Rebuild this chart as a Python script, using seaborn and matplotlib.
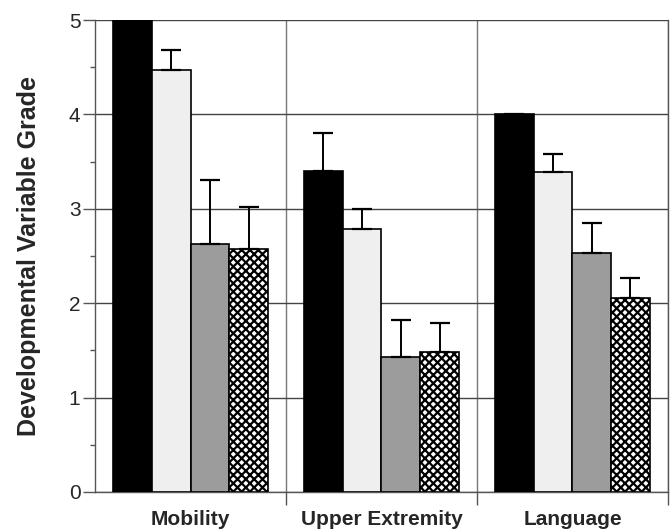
import numpy as np
import pandas as pd
import matplotlib
matplotlib.use("Agg")
import matplotlib.pyplot as plt
import seaborn as sns
from matplotlib.ticker import MultipleLocator

categories = ["Mobility", "Upper Extremity", "Language"]
groups = ["Group A", "Group B", "Group C", "Group D"]
values_a = [5.0, 3.40, 4.0]
values_b = [4.47, 2.79, 3.39]
values_c = [2.63, 1.43, 2.53]
values_d = [2.57, 1.48, 2.05]
err_a = [np.nan, 0.40, np.nan]
err_b = [0.21, 0.21, 0.19]
err_c = [0.68, 0.39, 0.32]
err_d = [0.45, 0.31, 0.22]

all_vals = [values_a, values_b, values_c, values_d]
all_errs = [err_a, err_b, err_c, err_d]
df = pd.DataFrame({
    "category": [c for _ in groups for c in categories],
    "group": [g for g in groups for _ in categories],
    "value": [v for vals in all_vals for v in vals],
})

sns.set_theme(style="white")
plt.rcParams["font.family"] = ["Liberation Sans", "DejaVu Sans"]
plt.rcParams["hatch.linewidth"] = 1.6

fig = plt.figure(figsize=(6.71, 5.32), dpi=100)
ax = fig.add_axes([0.1416, 0.0752, 0.8539, 0.8872])

face = ["#000000", "#efefef", "#9c9c9c", "#ffffff"]
hatches = [None, None, None, "xxxx"]
sns.barplot(data=df, x="category", y="value", hue="group", order=categories,
            hue_order=groups, palette=face, width=0.81, gap=0, saturation=1,
            edgecolor="black", linewidth=1.2, legend=False, ax=ax, zorder=3)

for cont, h, errs, vals in zip(ax.containers, hatches, all_errs, all_vals):
    xs = []
    for bar in cont:
        if h:
            bar.set_hatch(h)
        xs.append(bar.get_x() + bar.get_width() / 2)
    e = np.array(errs, dtype=float)
    ax.errorbar(xs, vals, yerr=[np.zeros_like(e), e], fmt="none",
                ecolor="black", elinewidth=1.4, capsize=7, capthick=1.6, zorder=4)

ax.set_xlim(-0.5, 2.5)
ax.set_ylim(0, 5)
ax.yaxis.set_major_locator(MultipleLocator(1))
ax.yaxis.set_minor_locator(MultipleLocator(0.5))
ax.set_xticks([0.5, 1.5, 2.5], minor=False)
ax.set_xticklabels([])
ax.set_xticks([0, 1, 2], minor=True)
ax.set_xticklabels(categories, minor=True, fontsize=15, fontweight="bold")
ax.tick_params(axis="x", which="minor", length=0, pad=13)
ax.tick_params(axis="x", which="major", length=9, width=1, color="#555555", direction="out", bottom=True)
ax.tick_params(axis="y", which="major", length=8.5, width=1, color="#555555", direction="out", left=True,
               labelsize=15, pad=2)
ax.tick_params(axis="y", which="minor", length=3.5, width=1, color="#555555", direction="out", left=True)

ax.grid(True, axis="y", which="major", color="#444444", linewidth=1.0, zorder=0)
ax.grid(True, axis="x", which="major", color="#777777", linewidth=1.0, zorder=0)
ax.set_axisbelow(True)

for s in ["left", "bottom", "right"]:
    ax.spines[s].set_visible(True)
    ax.spines[s].set_color("#555555")
    ax.spines[s].set_linewidth(1.0)
ax.spines["top"].set_visible(False)

ax.set_xlabel("")
ax.set_ylabel("Developmental Variable Grade", fontsize=18, fontweight="bold", labelpad=20)

fig.savefig("out.png", dpi=100)
